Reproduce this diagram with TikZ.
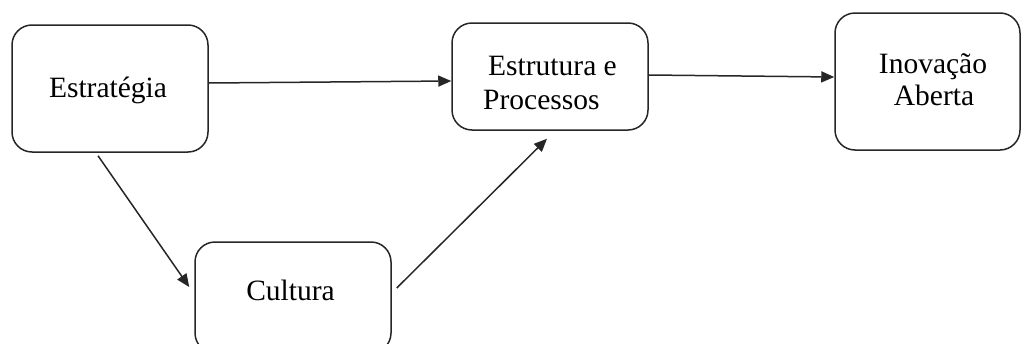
\documentclass[tikz,border=0pt]{standalone}
\usepackage{fontspec}
\setmainfont{Liberation Serif}
\usetikzlibrary{arrows.meta}

\tikzset{
  box/.style={draw=black!85, line width=1.5pt, rounded corners=20pt,
    inner sep=0pt, fill=white},
  lbl/.style={inner sep=0pt, font=\fontsize{29.5}{34}\selectfont},
  arr/.style={draw=black!85, line width=1.5pt,
    -{Triangle[length=13pt,width=11pt]}},
}

\begin{document}
\begin{tikzpicture}[x=1pt, y=-1pt]
  \useasboundingbox (0,0) rectangle (1022,343);
  \clip (0,0) rectangle (1022,343);

  % boxes
  \node[box, minimum width=196pt, minimum height=127pt] (estr) at (110,88.5) {};
  \node[box, minimum width=196pt, minimum height=107pt] (estp) at (550,76.5) {};
  \node[box, minimum width=185pt, minimum height=137pt] (inov) at (927.5,81.5) {};
  \node[box, minimum width=196pt, minimum height=111pt] (cult) at (293,297.5) {};

  % labels
  \node[lbl, anchor=base] (estr-t) at (108,97) {Estratégia};
  \node[lbl, anchor=base west] (estp-t1) at (488,75) {Estrutura e};
  \node[lbl, anchor=base west] (estp-t2) at (483,109) {Processos};
  \node[lbl, anchor=base] (inov-t1) at (933,73) {Inovação};
  \node[lbl, anchor=base] (inov-t2) at (934,105) {Aberta};
  \node[lbl, anchor=base] (cult-t) at (290.5,300) {Cultura};

  % connectors
  \draw[arr] ([yshift=5.5pt]estr.east) -- ([yshift=-4.5pt]estp.west);
  \draw[arr] ([yshift=1.5pt]estp.east) -- ([yshift=4.5pt]inov.west);
  \draw[arr] ([xshift=-12pt,yshift=-3pt]estr.south) -- ([xshift=-5pt,yshift=10.5pt]cult.west);
  \draw[arr] ([xshift=5pt,yshift=9.5pt]cult.east) -- ([xshift=-3pt,yshift=-8pt]estp.south);
\end{tikzpicture}
\end{document}
